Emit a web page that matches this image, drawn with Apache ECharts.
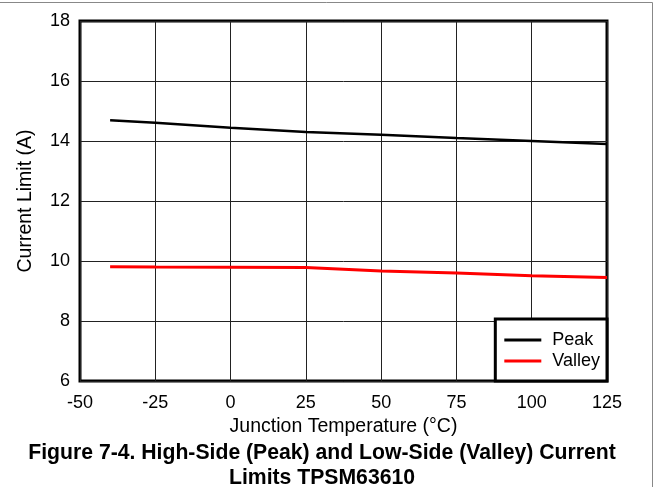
<!DOCTYPE html>
<html>
<head>
<meta charset="utf-8">
<script src="https://cdn.jsdelivr.net/npm/echarts@6/dist/echarts.min.js"></script>
<style>
html,body{margin:0;padding:0;background:#fff;}
#c{width:656px;height:487px;}
</style>
</head>
<body>
<div id="c"></div>
<script>
const temps = [-40, -25, 0, 25, 50, 75, 100, 125];
const peak = [14.69, 14.61, 14.44, 14.30, 14.21, 14.10, 14.00, 13.90];
const valley = [9.81, 9.80, 9.79, 9.78, 9.67, 9.60, 9.51, 9.45];
const seriesNames = ['Peak', 'Valley'];
const xTitle = 'Junction Temperature (°C)';
const yTitle = 'Current Limit (A)';
const chartTitle = 'Figure 7-4. High-Side (Peak) and Low-Side (Valley) Current\nLimits TPSM63610';

const font = "'Liberation Sans', Arial, sans-serif";
const chart = echarts.init(document.getElementById('c'), null, {renderer: 'canvas'});
chart.setOption({
  animation: false,
  backgroundColor: '#fff',
  textStyle: {fontFamily: font},
  title: {
    text: chartTitle,
    left: 322,
    top: 441,
    padding: 0,
    textAlign: 'center',
    textStyle: {fontFamily: font, fontSize: 21.2, fontWeight: 'bold', color: '#000', lineHeight: 25}
  },
  grid: {left: 80, right: 49, top: 21, bottom: 106, show: true, borderColor: '#000', borderWidth: 3, backgroundColor: 'transparent'},
  legend: {
    orient: 'vertical',
    right: 49,
    bottom: 106,
    data: seriesNames.map(n => ({name: n, icon: 'rect'})),
    backgroundColor: '#fff',
    borderColor: '#000',
    borderWidth: 3,
    padding: [12, 7, 11, 9],
    itemGap: 3,
    itemWidth: 37,
    itemHeight: 3,
    textStyle: {fontFamily: font, fontSize: 18, color: '#000', lineHeight: 18, padding: [0, 0, 0, 6]}
  },
  xAxis: {
    type: 'value', min: -50, max: 125, interval: 25,
    name: xTitle, nameLocation: 'middle', nameGap: 32,
    nameTextStyle: {fontFamily: font, fontSize: 19.5, color: '#000'},
    axisLine: {show: false},
    axisTick: {show: false},
    axisLabel: {fontFamily: font, fontSize: 18, color: '#000', margin: 13},
    splitLine: {show: true, lineStyle: {color: '#222', width: 1}}
  },
  yAxis: {
    type: 'value', min: 6, max: 18, interval: 2,
    name: yTitle, nameLocation: 'middle', nameGap: 44,
    nameTextStyle: {fontFamily: font, fontSize: 19.5, color: '#000'},
    axisLine: {show: false},
    axisTick: {show: false},
    axisLabel: {fontFamily: font, fontSize: 18, color: '#000', margin: 10},
    splitLine: {show: true, lineStyle: {color: '#222', width: 1}}
  },
  graphic: [
    {type: 'line', shape: {x1: 0, y1: 2.5, x2: 652.5, y2: 2.5}, style: {stroke: '#888', lineWidth: 1}},
    {type: 'line', shape: {x1: 652.5, y1: 2.5, x2: 652.5, y2: 487}, style: {stroke: '#888', lineWidth: 1}}
  ],
  series: [
    {name: seriesNames[0], type: 'line', symbol: 'none', data: temps.map((t, i) => [t, peak[i]]),
     lineStyle: {color: '#000', width: 2.5}, itemStyle: {color: '#000'}},
    {name: seriesNames[1], type: 'line', symbol: 'none', data: temps.map((t, i) => [t, valley[i]]),
     lineStyle: {color: '#ff0000', width: 3}, itemStyle: {color: '#ff0000'}}
  ]
});
</script>
</body>
</html>
